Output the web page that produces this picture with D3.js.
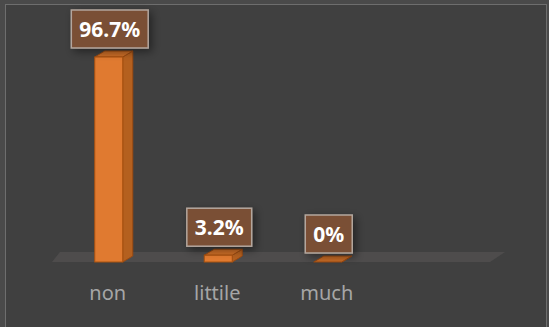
<!DOCTYPE html>
<html>
<head>
<meta charset="utf-8">
<script src="https://cdn.jsdelivr.net/npm/d3@7"></script>
<style>
  html, body { margin: 0; padding: 0; background: #4a4a4a; }
  svg { display: block; }
</style>
</head>
<body>
<div id="chart"></div>
<script>
// categories and values (percent)
var categories = ["non", "littile", "much"];
var values = [96.7, 3.2, 0];
var valueLabels = ["96.7%", "3.2%", "0%"];
// Excel left an empty 4th slot on the category axis
var slots = categories.concat([""]);

var width = 549, height = 327;
var depthX = 10, depthY = 6;

var svg = d3.select("#chart").append("svg")
    .attr("width", width)
    .attr("height", height);

var defs = svg.append("defs");
var shadow = defs.append("filter")
    .attr("id", "shadow")
    .attr("x", "-40%").attr("y", "-40%")
    .attr("width", "180%").attr("height", "180%");
shadow.append("feDropShadow")
    .attr("dx", 3).attr("dy", 3)
    .attr("stdDeviation", 4)
    .attr("flood-color", "#000")
    .attr("flood-opacity", 0.45);

// chart frame
svg.append("rect")
    .attr("x", 5.5).attr("y", 4.5)
    .attr("width", 541).attr("height", 330)
    .attr("fill", "#404040")
    .attr("stroke", "#6e6e6e");

var x = d3.scaleBand()
    .domain(slots)
    .range([54, 492]);

var y = d3.scaleLinear()
    .domain([0, 100])
    .range([262, 50]);

var barW = 28;
function barLeft(d, i) { return x(categories[i]) + x.bandwidth() / 2 - barW / 2; }

// floor
var x0 = x.range()[0] - 2, x1 = x.range()[1] - 2;
svg.append("polygon")
    .attr("points", [
      [x0, y(0)], [x0 + 8, y(0) - 10], [x1 + 15, y(0) - 10], [x1, y(0)]
    ].map(function(p) { return p.join(","); }).join(" "))
    .attr("fill", "#4e4c4c");

var bars = svg.selectAll("g.bar")
    .data(values)
  .enter().append("g")
    .attr("class", "bar");

// side face
bars.append("polygon")
    .attr("points", function(d, i) {
      var l = barLeft(d, i) + barW, t = y(d), b = y(0);
      return [[l, t], [l + depthX, t - depthY], [l + depthX, b - depthY], [l, b]]
        .map(function(p) { return p.join(","); }).join(" ");
    })
    .attr("fill", "#b4601f")
    .attr("stroke", "#9a4a12")
    .attr("stroke-width", 1);

// top face
bars.append("polygon")
    .attr("points", function(d, i) {
      var l = barLeft(d, i), t = y(d);
      return [[l, t], [l + depthX, t - depthY], [l + barW + depthX, t - depthY], [l + barW, t]]
        .map(function(p) { return p.join(","); }).join(" ");
    })
    .attr("fill", "#c96c26")
    .attr("stroke", "#9a4a12")
    .attr("stroke-width", 1);

// front face
bars.append("rect")
    .attr("x", barLeft)
    .attr("y", function(d) { return y(d); })
    .attr("width", barW)
    .attr("height", function(d) { return y(0) - y(d); })
    .attr("fill", "#e07a30")
    .attr("stroke", "#a9520f")
    .attr("stroke-width", 1);

// value labels
var labels = svg.selectAll("g.label")
    .data(values)
  .enter().append("g")
    .attr("class", "label");

labels.each(function(d, i) {
  var g = d3.select(this);
  var cx = barLeft(d, i) + barW / 2 + 1;
  var bottom = y(d) - depthY - 3;
  var rect = g.append("rect")
      .attr("fill", "#7a4f36")
      .attr("stroke", "#b3a69d")
      .attr("stroke-width", 1.5)
      .attr("filter", "url(#shadow)");
  var text = g.append("text")
      .attr("x", cx)
      .attr("y", bottom - 11)
      .attr("text-anchor", "middle")
      .attr("font-family", "'Noto Sans', sans-serif")
      .attr("font-weight", "bold")
      .attr("font-size", 21)
      .attr("fill", "#ffffff")
      .text(valueLabels[i]);
  var w = text.node().getComputedTextLength() + 16;
  rect.attr("x", cx - w / 2)
      .attr("y", bottom - 38)
      .attr("width", w)
      .attr("height", 38);
});

// category axis labels
svg.selectAll("text.cat")
    .data(categories)
  .enter().append("text")
    .attr("class", "cat")
    .attr("x", function(d) { return x(d) + x.bandwidth() / 2 - 1; })
    .attr("y", 300)
    .attr("text-anchor", "middle")
    .attr("font-family", "'Noto Sans', sans-serif")
    .attr("font-size", 20)
    .attr("fill", "#a6a6a6")
    .text(function(d) { return d; });
</script>
</body>
</html>
